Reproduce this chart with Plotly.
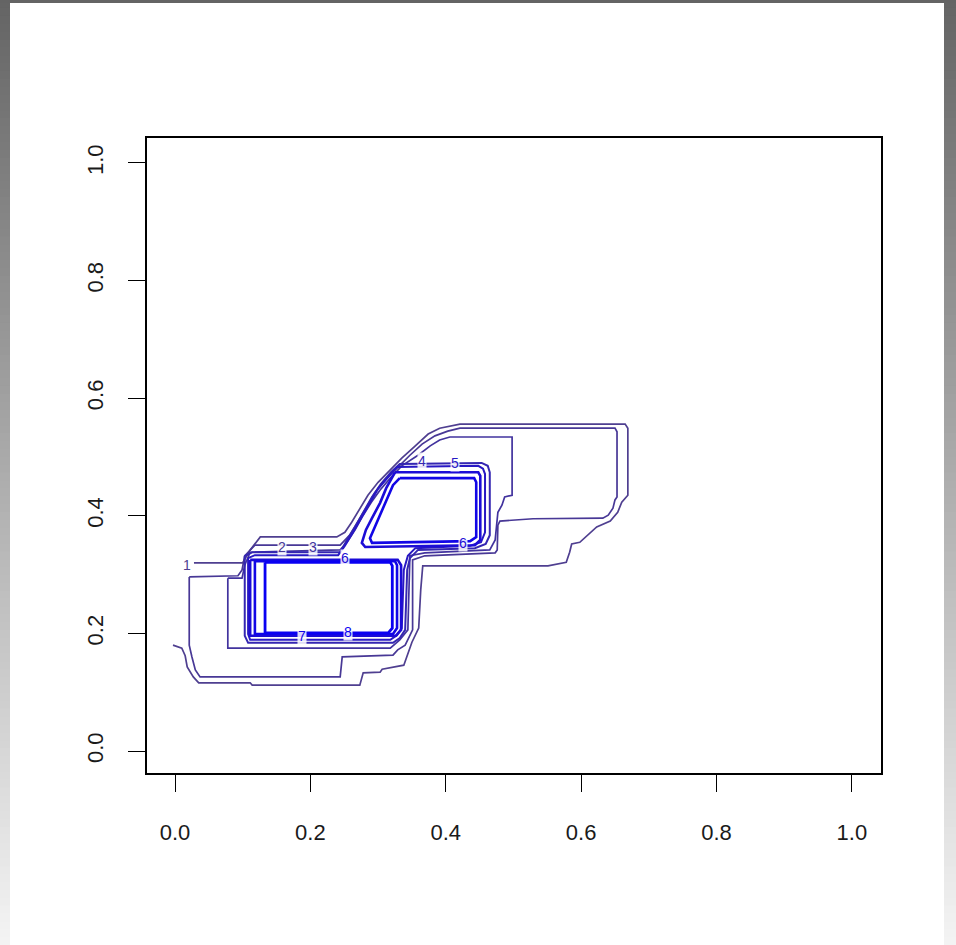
import plotly.graph_objects as go

# ---- contour lines (data units) ----
c1_x = [0.028,0.100,0.111,0.126,0.239,0.251,0.261,0.273,0.285,0.300,
        0.318,0.335,0.355,0.374,0.391,0.421,0.665,0.669,0.669,0.660,
        0.654,0.643,0.623,0.609,0.598,0.586,0.583,0.578,0.551,0.366,
        0.363,0.360,0.350,0.338,0.306,0.303,0.278,0.273,0.114,0.111,
        0.035,0.027,0.018,0.015,0.010,-0.003]
c1_y = [0.320,0.320,0.342,0.364,0.364,0.372,0.389,0.413,0.435,0.457,
        0.478,0.498,0.519,0.539,0.549,0.556,0.556,0.549,0.435,0.423,
        0.406,0.391,0.381,0.367,0.355,0.352,0.338,0.321,0.315,0.315,
        0.274,0.209,0.185,0.146,0.139,0.134,0.133,0.112,0.112,0.116,
        0.116,0.126,0.143,0.162,0.175,0.180]

c2_x = [0.021,0.093,0.099,0.103,0.118,0.244,0.258,0.270,0.282,0.295,
        0.310,0.328,0.347,0.365,0.384,0.403,0.421,0.650,0.653,0.653,
        0.650,0.647,0.640,0.632,0.529,0.480,0.477,0.476,0.473,0.369,
        0.351,0.351,0.340,0.329,0.322,0.247,0.244,0.037,0.030,0.025,
        0.021,0.021]
c2_y = [0.296,0.298,0.308,0.332,0.350,0.350,0.367,0.389,0.413,0.439,
        0.461,0.481,0.503,0.522,0.536,0.544,0.549,0.549,0.543,0.432,
        0.427,0.413,0.401,0.396,0.395,0.391,0.384,0.342,0.337,0.332,
        0.325,0.206,0.180,0.172,0.163,0.160,0.126,0.126,0.138,0.160,
        0.180,0.296]

c3_x = [0.078,0.099,0.103,0.111,0.244,0.254,0.266,0.278,0.290,0.303,
        0.318,0.335,0.359,0.377,0.391,0.406,0.498,0.498,0.487,0.483,
        0.477,0.473,0.465,0.369,0.347,0.344,0.332,0.318,0.078,0.078]
c3_y = [0.294,0.294,0.316,0.338,0.342,0.355,0.376,0.401,0.423,0.444,
        0.464,0.485,0.503,0.519,0.529,0.534,0.534,0.435,0.432,0.418,
        0.406,0.359,0.342,0.337,0.332,0.206,0.189,0.175,0.175,0.294]

c4_x = [0.103,0.114,0.244,0.254,0.266,0.278,0.291,0.304,0.319,0.332,
        0.453,0.462,0.465,0.465,0.459,0.443,0.359,0.347,0.343,0.340,
        0.332,0.322,0.108,0.103,0.103]
c4_y = [0.332,0.338,0.338,0.359,0.381,0.406,0.432,0.454,0.474,0.488,
        0.490,0.485,0.474,0.367,0.352,0.345,0.342,0.328,0.308,0.206,
        0.192,0.184,0.184,0.196,0.332]

c5_x = [0.108,0.118,0.241,0.251,0.263,0.275,0.287,0.300,0.315,0.328,
        0.448,0.455,0.458,0.458,0.452,0.436,0.355,0.344,0.338,0.335,
        0.328,0.318,0.111,0.108,0.108]
c5_y = [0.328,0.333,0.333,0.349,0.372,0.396,0.422,0.446,0.466,0.483,
        0.485,0.480,0.471,0.372,0.355,0.349,0.345,0.332,0.308,0.209,
        0.197,0.189,0.189,0.199,0.328]

c6_x = [0.325,0.448,0.451,0.451,0.443,0.281,0.276,0.282,0.291,0.303,
        0.312,0.321,0.325,None,
        0.111,0.329,0.334,0.334,0.326,0.111,0.111]
c6_y = [0.474,0.474,0.468,0.359,0.350,0.347,0.354,0.376,0.396,0.422,
        0.447,0.466,0.474,None,
        0.325,0.325,0.316,0.206,0.196,0.196,0.325]

c7_x = [0.332,0.442,0.445,0.445,0.436,0.291,0.288,0.300,0.312,0.322,
        0.332,None,
        0.118,0.325,0.328,0.328,0.322,0.118,0.118]
c7_y = [0.464,0.464,0.457,0.364,0.357,0.354,0.362,0.393,0.427,0.452,
        0.464,None,
        0.323,0.323,0.316,0.209,0.199,0.199,0.323]

c8_x = [0.133,0.318,0.321,0.321,0.315,0.133,0.133]
c8_y = [0.321,0.321,0.315,0.209,0.201,0.201,0.321]

levels = [1, 2, 3, 4, 5, 6, 7, 8]
contour_x = [c1_x, c2_x, c3_x, c4_x, c5_x, c6_x, c7_x, c8_x]
contour_y = [c1_y, c2_y, c3_y, c4_y, c5_y, c6_y, c7_y, c8_y]
colors = ["#4F3F90", "#483896", "#42339E", "#3426B2", "#2818C4",
          "#1C0CD6", "#1206E6", "#0A00F2"]
widths = [1.7, 1.7, 1.7, 2.0, 2.0, 2.6, 2.6, 2.8]

label_x = [0.018, 0.158, 0.204, 0.365, 0.414, 0.251, 0.425, 0.188, 0.256]
label_y = [0.316, 0.347, 0.347, 0.493, 0.490, 0.328, 0.354, 0.196, 0.202]
label_text = ["1", "2", "3", "4", "5", "6", "6", "7", "8"]

tick_vals = [0.0, 0.2, 0.4, 0.6, 0.8, 1.0]
tick_text = ["0.0", "0.2", "0.4", "0.6", "0.8", "1.0"]

fig = go.Figure()
for lv, xs, ys, col, w in zip(levels, contour_x, contour_y, colors, widths):
    fig.add_trace(go.Scatter(x=xs, y=ys, mode="lines", name=str(lv),
                             line=dict(color=col, width=w),
                             connectgaps=False, hoverinfo="skip",
                             showlegend=False))

for lx, ly, lt in zip(label_x, label_y, label_text):
    col = colors[int(lt) - 1]
    fig.add_annotation(x=lx, y=ly, text=lt, showarrow=False,
                       font=dict(family="Liberation Sans", size=14, color=col),
                       bgcolor="rgba(255,255,255,0.85)", borderpad=0)

# gray gradient frame around the page (decoration)
shapes = []
n = 120
def grey(t):
    v = int(round(0x64 + (0xF4 - 0x64) * t))
    return "rgb(%d,%d,%d)" % (v, v, v)
top_p, bot_p = 773 / 635, (773 - 945) / 635
for i in range(n):
    y1 = top_p - (top_p - bot_p) * i / n
    y0 = top_p - (top_p - bot_p) * (i + 1) / n - 0.002
    c = grey((i + 0.5) / n)
    shapes.append(dict(type="rect", xref="paper", yref="paper",
                       x0=-147 / 734, x1=(10 - 147) / 734, y0=y0, y1=y1,
                       fillcolor=c, line=dict(width=0), layer="below"))
    shapes.append(dict(type="rect", xref="paper", yref="paper",
                       x0=(944 - 147) / 734, x1=(956 - 147) / 734, y0=y0, y1=y1,
                       fillcolor=c, line=dict(width=0), layer="below"))
shapes.append(dict(type="rect", xref="paper", yref="paper",
                   x0=-147 / 734, x1=(956 - 147) / 734,
                   y0=(773 - 3) / 635, y1=top_p,
                   fillcolor="rgb(100,100,100)", line=dict(width=0), layer="below"))

axis_font = dict(family="Liberation Sans Narrow, Liberation Sans, sans-serif",
                 size=22, color="#1a1a1a")
fig.update_layout(
    width=956, height=945,
    margin=dict(l=147, r=75, t=138, b=172),
    paper_bgcolor="white", plot_bgcolor="white",
    shapes=shapes,
    xaxis=dict(range=[-0.0414, 1.043], showgrid=False, zeroline=False,
               showline=True, mirror=True, linecolor="black", linewidth=1.5,
               ticks="outside", ticklen=17, tickwidth=1.3, tickcolor="black",
               tickvals=tick_vals, ticktext=tick_text, tickfont=axis_font,
               ticklabelstandoff=22),
    yaxis=dict(range=[-0.0374, 1.0425], showgrid=False, zeroline=False,
               showline=True, mirror=True, linecolor="black", linewidth=1.5,
               ticks="outside", ticklen=17, tickwidth=1.3, tickcolor="black",
               tickvals=tick_vals, ticktext=tick_text, tickfont=axis_font,
               tickangle=-90, ticklabelstandoff=16),
)

fig.write_html("out.html", config={"displayModeBar": False},
               post_script="document.body.style.margin='0px';document.body.style.overflow='hidden';")
